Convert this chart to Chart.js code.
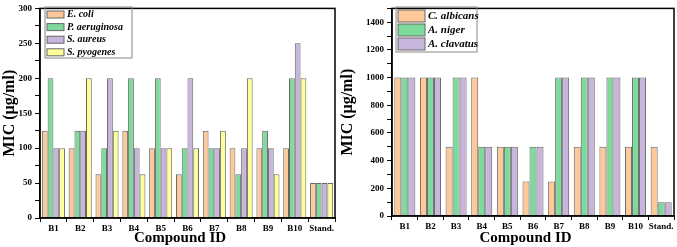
<!DOCTYPE html>
<html>
<head>
<meta charset="utf-8">
<script src="https://cdn.jsdelivr.net/npm/chart.js@4.4.0/dist/chart.umd.min.js"></script>
<style>
  body { margin: 0; background: #fff; }
  #left { position: absolute; left: 0; top: 0; }
  #right { position: absolute; left: 338px; top: 0; }
</style>
</head>
<body>
<canvas id="left" width="338" height="247"></canvas>
<canvas id="right" width="339" height="247"></canvas>
<script>
// categories
var compounds = ["B1", "B2", "B3", "B4", "B5", "B6", "B7", "B8", "B9", "B10", "Stand."];

// antibacterial MIC values
var eColi        = [125, 100, 62.5, 125, 100, 62.5, 125, 100, 100, 100, 50];
var pAeruginosa  = [200, 125, 100, 200, 200, 100, 100, 62.5, 125, 200, 50];
var sAureus      = [100, 125, 200, 100, 100, 200, 100, 100, 100, 250, 50];
var sPyogenes    = [100, 200, 125, 62.5, 100, 100, 125, 200, 62.5, 200, 50];

// antifungal MIC values
var cAlbicans    = [1000, 1000, 500, 1000, 500, 250, 250, 500, 500, 500, 500];
var aNiger       = [1000, 1000, 1000, 500, 500, 500, 1000, 1000, 1000, 1000, 100];
var aClavatus    = [1000, 1000, 1000, 500, 500, 500, 1000, 1000, 1000, 1000, 100];

var orange = "#FDC998", green = "#7ED99C", purple = "#C7B5DC", yellow = "#FFFF9A";
var serif = "'Liberation Serif', 'Times New Roman', serif";

// frame round the plot + legend box inside it
var framePlugin = {
    id: "frame",
    afterDraw: function(chart) {
        var ctx = chart.ctx, a = chart.chartArea;
        ctx.save();
        ctx.strokeStyle = "#000";
        ctx.lineWidth = 1.5;
        ctx.strokeRect(a.left, a.top, a.right - a.left, a.bottom - a.top);

        var lg = chart.options.plugins.boxLegend;
        ctx.lineWidth = 1;
        ctx.strokeStyle = "#888";
        ctx.strokeRect(lg.x, lg.y, lg.w, lg.h);
        ctx.font = "italic bold " + lg.font + "px " + serif;
        ctx.textBaseline = "middle";
        ctx.fillStyle = "#000";
        chart.data.datasets.forEach(function(ds, i) {
            var cy = lg.y + lg.first + i * lg.step;
            ctx.fillStyle = ds.backgroundColor;
            ctx.fillRect(lg.x + 2, cy - lg.sh / 2, lg.sw, lg.sh);
            ctx.strokeStyle = "#666";
            ctx.strokeRect(lg.x + 2, cy - lg.sh / 2, lg.sw, lg.sh);
            ctx.fillStyle = "#000";
            ctx.fillText(ds.label, lg.x + lg.sw + 5, cy);
        });
        ctx.restore();
    }
};

function makeScales(max, step, labelStep, yWidth, xHeight) {
    return {
        x: {
            grid: { display: true, drawOnChartArea: false, offset: true, tickLength: 4, color: "#000", lineWidth: 1 },
            border: { color: "#000", width: 1.5 },
            ticks: { color: "#000", padding: 1, font: { family: serif, size: 9, weight: "bold" }, maxRotation: 0, autoSkip: false },
            title: { display: true, text: "Compound ID    ", color: "#000", padding: 0, font: { family: serif, size: 15, weight: "bold" } },
            afterFit: function(s) { s.height = xHeight; }
        },
        y: {
            min: 0, max: max,
            grid: { display: true, drawOnChartArea: false, tickLength: 5, color: "#000", lineWidth: 1 },
            border: { color: "#000", width: 1.5 },
            ticks: {
                stepSize: step, color: "#000", padding: 3,
                font: { family: serif, size: 9, weight: "bold" },
                callback: function(v) { return v % labelStep === 0 ? v : ""; }
            },
            title: { display: true, text: "MIC (\u03bcg/ml)", color: "#000", padding: 0, font: { family: serif, size: 16, weight: "bold" } },
            afterFit: function(s) { s.width = yWidth; }
        }
    };
}

function ds(label, data, color) {
    return { label: label, data: data, backgroundColor: color, borderColor: "#666", borderWidth: 1 };
}

new Chart(document.getElementById("left"), {
    type: "bar",
    data: {
        labels: compounds,
        datasets: [
            ds("E. coli", eColi, orange),
            ds("P. aeruginosa", pAeruginosa, green),
            ds("S. aureus", sAureus, purple),
            ds("S. pyogenes", sPyogenes, yellow)
        ]
    },
    options: {
        responsive: false, animation: false,
        categoryPercentage: 0.86, barPercentage: 1.0,
        layout: { padding: { left: 0, right: 3, top: 5, bottom: 0 } },
        plugins: {
            legend: { display: false }, tooltip: { enabled: false },
            boxLegend: { x: 45, y: 7, w: 87, h: 51, first: 7.5, step: 12.6, sw: 17, sh: 7, font: 10 }
        },
        scales: makeScales(300, 25, 50, 40, 29)
    },
    plugins: [framePlugin]
});

new Chart(document.getElementById("right"), {
    type: "bar",
    data: {
        labels: compounds,
        datasets: [
            ds("C. albicans", cAlbicans, orange),
            ds("A. niger", aNiger, green),
            ds("A. clavatus", aClavatus, purple)
        ]
    },
    options: {
        responsive: false, animation: false,
        categoryPercentage: 0.82, barPercentage: 1.0,
        layout: { padding: { left: 0, right: 3, top: 3, bottom: 0 } },
        plugins: {
            legend: { display: false }, tooltip: { enabled: false },
            boxLegend: { x: 58, y: 7, w: 81, h: 45, first: 9, step: 14, sw: 27, sh: 12, font: 11 }
        },
        scales: makeScales(1500, 100, 200, 54, 31)
    },
    plugins: [framePlugin]
});
</script>
</body>
</html>
